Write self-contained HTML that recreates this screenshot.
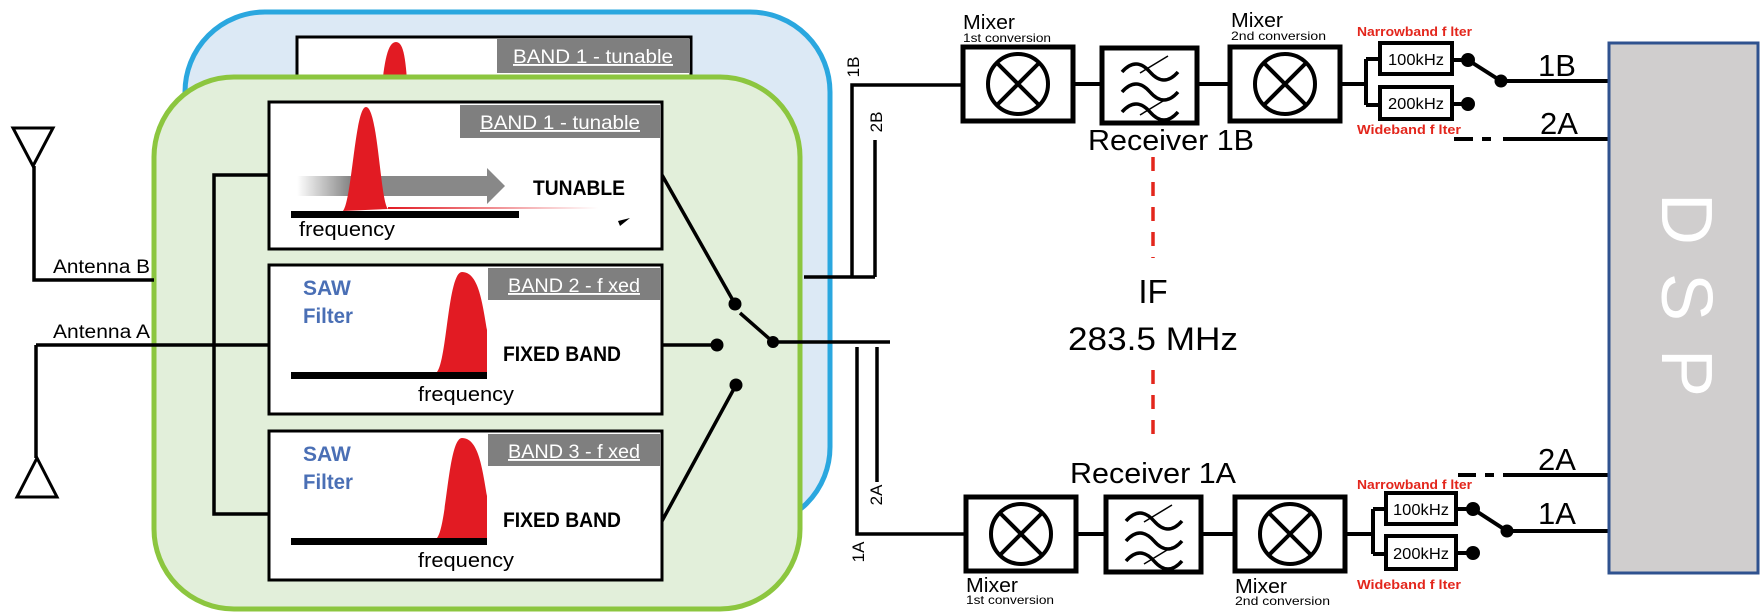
<!DOCTYPE html>
<html><head><meta charset="utf-8"><style>
html,body{margin:0;padding:0;background:#fff;}
svg{display:block;}
text{font-family:"Liberation Sans Narrow","Liberation Sans",sans-serif;}
</style></head><body>
<svg width="1762" height="614" viewBox="0 0 1762 614" xmlns="http://www.w3.org/2000/svg">
<defs>
<linearGradient id="ga" x1="0" x2="1" y1="0" y2="0">
<stop offset="0" stop-color="#888" stop-opacity="0"/><stop offset="0.25" stop-color="#888"/><stop offset="1" stop-color="#888"/>
</linearGradient>
<linearGradient id="gt" x1="0" x2="1"><stop offset="0" stop-color="#e21b23"/><stop offset="1" stop-color="#e21b23" stop-opacity="0"/></linearGradient>
<g id="filt">
<rect x="0" y="0" width="95" height="75" fill="#fff" stroke="#000" stroke-width="5"/>
<path d="M20 24 q14 -16 28 0 t28 0 M20 44 q14 -16 28 0 t28 0 M20 64 q14 -16 28 0 t28 0" fill="none" stroke="#000" stroke-width="3.5"/>
<path d="M38 25 L66 8 M38 67 L66 50" stroke="#000" stroke-width="1.5"/>
</g>
<g id="mix">
<rect x="0" y="0" width="110" height="74" fill="#fff" stroke="#000" stroke-width="5"/>
<circle cx="55" cy="37" r="30" fill="none" stroke="#000" stroke-width="4"/>
<path d="M34 16 L76 58 M76 16 L34 58" stroke="#000" stroke-width="4"/>
</g>
</defs>

<rect x="185" y="12" width="645" height="515" rx="80" fill="#dce9f5" stroke="#2aa7df" stroke-width="5"/>
<rect x="297" y="37" width="394" height="60" fill="#fff" stroke="#000" stroke-width="3"/>
<rect x="497" y="39" width="192" height="34" fill="#7f7f7f"/>
<text x="593" y="63" font-size="19" fill="#fff" text-anchor="middle" text-decoration="underline" textLength="160" lengthAdjust="spacingAndGlyphs">BAND 1 - tunable</text>
<path d="M381 97 C384 60 388 42 396 42 C404 42 406 60 408 97 Z" fill="#e21b23"/>

<rect x="154" y="77" width="646" height="532" rx="80" fill="#e2efda" stroke="#8cc63f" stroke-width="5"/>

<g stroke="#000" stroke-width="3.5" fill="none">
<path d="M269 175 H214 V514 H269"/>
<path d="M36 345 H269"/>
<path d="M34 166 V280 H154"/>
<path d="M36 345 V458"/>
</g>
<path d="M13 128 H53 L33 166 Z" fill="#fff" stroke="#000" stroke-width="3"/>
<path d="M17 497 H57 L37 458 Z" fill="#fff" stroke="#000" stroke-width="3"/>
<text x="53" y="273" font-size="19" textLength="97" lengthAdjust="spacingAndGlyphs">Antenna B</text>
<text x="53" y="338" font-size="19" textLength="97" lengthAdjust="spacingAndGlyphs">Antenna A</text>

<rect x="269" y="102" width="393" height="147" fill="#fff" stroke="#000" stroke-width="3"/>
<rect x="460" y="105" width="200" height="33" fill="#7f7f7f"/>
<text x="560" y="129" font-size="19" fill="#fff" text-anchor="middle" text-decoration="underline" textLength="160" lengthAdjust="spacingAndGlyphs">BAND 1 - tunable</text>
<path d="M297 176 H487 V168 L505 186 L487 204 V196 H297 Z" fill="url(#ga)"/>
<path d="M343 211 C352 200 355 107 366 107 C378 107 380 200 388 209 Z" fill="#e21b23"/>
<rect x="388" y="207" width="210" height="2" fill="url(#gt)"/>
<rect x="291" y="211" width="228" height="7" fill="#000"/>
<text x="533" y="195" font-size="21" font-weight="bold" textLength="92" lengthAdjust="spacingAndGlyphs">TUNABLE</text>
<text x="299" y="236" font-size="20" textLength="96" lengthAdjust="spacingAndGlyphs">frequency</text>
<path d="M618 221 L630 218 L620 226 Z" fill="#000"/>

<rect x="269" y="265" width="393" height="149" fill="#fff" stroke="#000" stroke-width="3"/>
<rect x="488" y="268" width="172" height="32" fill="#7f7f7f"/>
<text x="574" y="292" font-size="19" fill="#fff" text-anchor="middle" text-decoration="underline" textLength="132" lengthAdjust="spacingAndGlyphs">BAND 2 - f xed</text>
<text x="303" y="295" font-size="21" font-weight="bold" fill="#4a6fb5">SAW</text>
<text x="303" y="323" font-size="21" font-weight="bold" fill="#4a6fb5" textLength="50" lengthAdjust="spacingAndGlyphs">Filter</text>
<path d="M437 372 C447 360 448 272 462 272 C478 272 482 300 487 330 L487 372 Z" fill="#e21b23"/>
<rect x="291" y="372" width="196" height="7" fill="#000"/>
<text x="503" y="361" font-size="21" font-weight="bold" textLength="118" lengthAdjust="spacingAndGlyphs">FIXED BAND</text>
<text x="418" y="401" font-size="20" textLength="96" lengthAdjust="spacingAndGlyphs">frequency</text>

<rect x="269" y="431" width="393" height="149" fill="#fff" stroke="#000" stroke-width="3"/>
<rect x="488" y="434" width="172" height="32" fill="#7f7f7f"/>
<text x="574" y="458" font-size="19" fill="#fff" text-anchor="middle" text-decoration="underline" textLength="132" lengthAdjust="spacingAndGlyphs">BAND 3 - f xed</text>
<text x="303" y="461" font-size="21" font-weight="bold" fill="#4a6fb5">SAW</text>
<text x="303" y="489" font-size="21" font-weight="bold" fill="#4a6fb5" textLength="50" lengthAdjust="spacingAndGlyphs">Filter</text>
<path d="M437 538 C447 526 448 438 462 438 C478 438 482 466 487 496 L487 538 Z" fill="#e21b23"/>
<rect x="291" y="538" width="196" height="7" fill="#000"/>
<text x="503" y="527" font-size="21" font-weight="bold" textLength="118" lengthAdjust="spacingAndGlyphs">FIXED BAND</text>
<text x="418" y="567" font-size="20" textLength="96" lengthAdjust="spacingAndGlyphs">frequency</text>

<g stroke="#000" stroke-width="3.5" fill="none">
<path d="M662 175 L735 304"/>
<path d="M662 345 H717"/>
<path d="M662 521 L736 385"/>
<path d="M773 342 L740 313"/>
<path d="M773 342 H890"/>
<path d="M804 277 H875 M852 277 V85 H962 M875 277 V140"/>
<path d="M857 347 V534 H966 M877 347 V482"/>
</g>
<circle cx="735" cy="304" r="6.5"/><circle cx="717" cy="345" r="6.5"/><circle cx="736" cy="385" r="6.5"/><circle cx="773" cy="342" r="6"/>
<text transform="translate(859,67) rotate(-90)" font-size="17" text-anchor="middle">1B</text>
<text transform="translate(882,122) rotate(-90)" font-size="17" text-anchor="middle">2B</text>
<text transform="translate(882,495) rotate(-90)" font-size="17" text-anchor="middle">2A</text>
<text transform="translate(864,552) rotate(-90)" font-size="17" text-anchor="middle">1A</text>

<g stroke="#000" stroke-width="4" fill="none">
<path d="M1073 84 H1102 M1197 84 H1230 M1340 84 H1366 M1366 59 V105 M1366 59 H1380 M1366 105 H1380"/>
<path d="M1452 60 H1468 M1452 104 H1468"/>
<path d="M1468 60 L1501 81 H1609"/>
<path d="M1503 139 H1609"/>
<path d="M1454 139 H1473 M1482 139 H1491"/>
</g>
<use href="#mix" x="963" y="47"/>
<use href="#filt" x="1102" y="48"/>
<use href="#mix" x="1230" y="47"/>
<rect x="1380" y="43" width="72" height="31" fill="#fff" stroke="#000" stroke-width="4"/>
<rect x="1380" y="87" width="72" height="32" fill="#fff" stroke="#000" stroke-width="4"/>
<text x="1416" y="65" font-size="16" text-anchor="middle" textLength="56" lengthAdjust="spacingAndGlyphs">100kHz</text>
<text x="1416" y="109" font-size="16" text-anchor="middle" textLength="56" lengthAdjust="spacingAndGlyphs">200kHz</text>
<circle cx="1468" cy="60" r="7"/><circle cx="1468" cy="104" r="7"/><circle cx="1501" cy="81" r="6.5"/>
<text x="963" y="29" font-size="20" textLength="52" lengthAdjust="spacingAndGlyphs">Mixer</text>
<text x="963" y="42" font-size="12" textLength="88" lengthAdjust="spacingAndGlyphs">1st conversion</text>
<text x="1231" y="27" font-size="20" textLength="52" lengthAdjust="spacingAndGlyphs">Mixer</text>
<text x="1231" y="40" font-size="12" textLength="95" lengthAdjust="spacingAndGlyphs">2nd  conversion</text>
<text x="1357" y="36" font-size="13" font-weight="bold" fill="#e3261c" textLength="115" lengthAdjust="spacingAndGlyphs">Narrowband f lter</text>
<text x="1357" y="134" font-size="13" font-weight="bold" fill="#e3261c" textLength="104" lengthAdjust="spacingAndGlyphs">Wideband  f lter</text>
<text x="1538" y="76" font-size="31">1B</text>
<text x="1540" y="134" font-size="31">2A</text>
<text x="1088" y="150" font-size="29" textLength="166" lengthAdjust="spacingAndGlyphs">Receiver 1B</text>

<path d="M1153 157 V258 M1153 370 V442" stroke="#e3261c" stroke-width="3.5" stroke-dasharray="14 11"/>
<text x="1153" y="303" font-size="33" text-anchor="middle">IF</text>
<text x="1153" y="350" font-size="32" text-anchor="middle" textLength="170" lengthAdjust="spacingAndGlyphs">283.5 MHz</text>

<g stroke="#000" stroke-width="4" fill="none">
<path d="M1077 534 H1106 M1202 534 H1235 M1345 534 H1373 M1373 509 V554 M1373 509 H1386 M1373 554 H1386"/>
<path d="M1456 509 H1473 M1456 553 H1473"/>
<path d="M1473 509 L1507 531 H1609"/>
<path d="M1503 475 H1609"/>
<path d="M1458 475 H1476 M1485 475 H1494"/>
</g>
<use href="#mix" x="966" y="497"/>
<use href="#filt" x="1106" y="497"/>
<use href="#mix" x="1235" y="497"/>
<rect x="1386" y="493" width="70" height="31" fill="#fff" stroke="#000" stroke-width="4"/>
<rect x="1386" y="536" width="70" height="33" fill="#fff" stroke="#000" stroke-width="4"/>
<text x="1421" y="515" font-size="16" text-anchor="middle" textLength="56" lengthAdjust="spacingAndGlyphs">100kHz</text>
<text x="1421" y="559" font-size="16" text-anchor="middle" textLength="56" lengthAdjust="spacingAndGlyphs">200kHz</text>
<circle cx="1473" cy="509" r="7"/><circle cx="1473" cy="553" r="7"/><circle cx="1507" cy="531" r="6.5"/>
<text x="1070" y="483" font-size="29" textLength="166" lengthAdjust="spacingAndGlyphs">Receiver 1A</text>
<text x="1357" y="489" font-size="13" font-weight="bold" fill="#e3261c" textLength="115" lengthAdjust="spacingAndGlyphs">Narrowband f lter</text>
<text x="1357" y="589" font-size="13" font-weight="bold" fill="#e3261c" textLength="104" lengthAdjust="spacingAndGlyphs">Wideband  f lter</text>
<text x="1538" y="470" font-size="31">2A</text>
<text x="1538" y="524" font-size="31">1A</text>
<text x="966" y="592" font-size="20" textLength="52" lengthAdjust="spacingAndGlyphs">Mixer</text>
<text x="966" y="604" font-size="12" textLength="88" lengthAdjust="spacingAndGlyphs">1st conversion</text>
<text x="1235" y="593" font-size="20" textLength="52" lengthAdjust="spacingAndGlyphs">Mixer</text>
<text x="1235" y="605" font-size="12" textLength="95" lengthAdjust="spacingAndGlyphs">2nd  conversion</text>

<rect x="1609" y="43" width="149" height="530" fill="#d0cece" stroke="#2f528f" stroke-width="3"/>
<text transform="translate(1681,309) rotate(90)" font-size="72" fill="#fff" text-anchor="middle" dominant-baseline="middle" letter-spacing="28" font-family="Liberation Sans, sans-serif">DSP</text>
</svg>
</body></html>
